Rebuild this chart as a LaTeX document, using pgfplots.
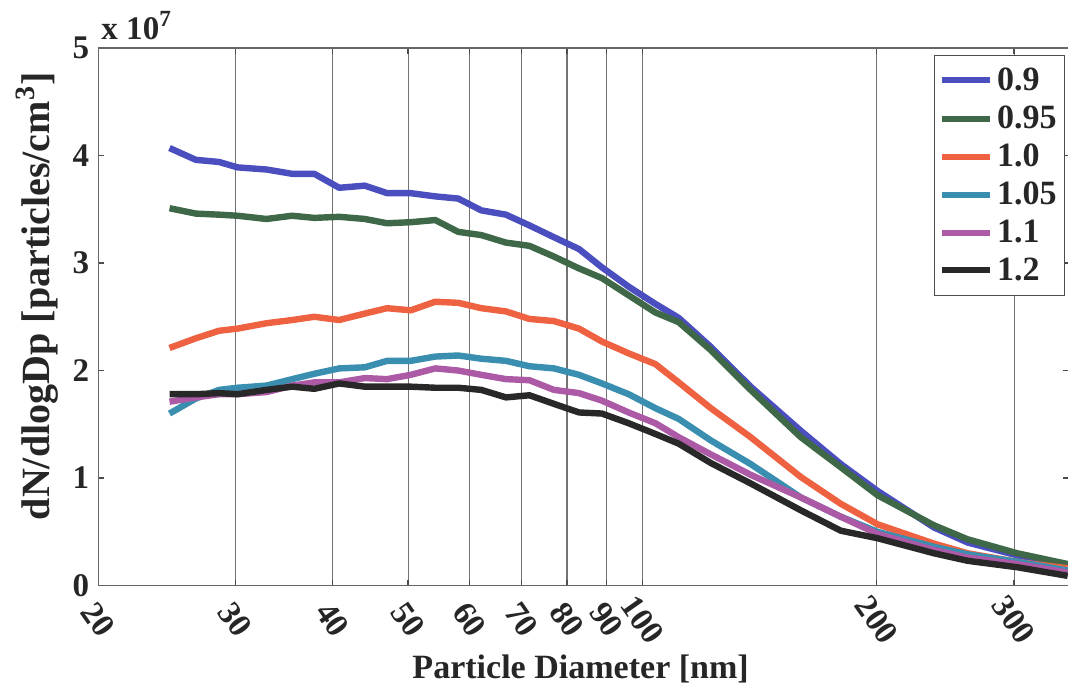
\documentclass[border=0pt]{standalone}
\usepackage{fontspec}
\setmainfont{Liberation Serif}
\usepackage{pgfplots}
\usepackage{pgfplotstable}
\pgfplotsset{compat=1.18}
\definecolor{cA}{RGB}{74,78,190}
\definecolor{cB}{RGB}{62,104,72}
\definecolor{cC}{RGB}{238,98,66}
\definecolor{cD}{RGB}{58,142,176}
\definecolor{cE}{RGB}{172,90,166}
\definecolor{cF}{RGB}{40,40,40}
\pgfplotstableread{
d     a     b     c     e     f     g
24.7  4.07  3.51  2.21  1.60  1.71  1.78
26.7  3.96  3.46  2.30  1.74  1.75  1.78
28.6  3.94  3.45  2.37  1.82  1.78  1.79
30.2  3.89  3.44  2.39  1.84  1.78  1.78
32.9  3.87  3.41  2.44  1.86  1.80  1.82
35.5  3.83  3.44  2.47  1.92  1.86  1.85
37.9  3.83  3.42  2.50  1.97  1.89  1.83
40.8  3.70  3.43  2.47  2.02  1.89  1.88
44.0  3.72  3.41  2.53  2.03  1.93  1.85
47.0  3.65  3.37  2.58  2.09  1.92  1.85
50.4  3.65  3.38  2.56  2.09  1.96  1.85
54.2  3.62  3.40  2.64  2.13  2.02  1.84
58.0  3.60  3.29  2.63  2.14  2.00  1.84
62.1  3.49  3.26  2.58  2.11  1.96  1.82
66.8  3.45  3.19  2.55  2.09  1.92  1.75
71.6  3.35  3.16  2.48  2.04  1.91  1.77
77.0  3.24  3.06  2.46  2.02  1.82  1.69
82.9  3.13  2.95  2.39  1.96  1.79  1.61
88.7  2.96  2.86  2.27  1.88  1.72  1.60
96.0  2.78  2.70  2.16  1.78  1.61  1.51
103.9 2.62  2.54  2.06  1.65  1.51  1.41
111.3 2.49  2.45  1.89  1.55  1.38  1.32
122.4 2.22  2.19  1.65  1.35  1.22  1.14
137.7 1.85  1.82  1.38  1.13  1.03  0.95
159.7 1.44  1.38  1.01  0.82  0.82  0.70
179.8 1.13  1.10  0.76  0.64  0.64  0.51
200.4 0.88  0.84  0.57  0.50  0.48  0.44
236.8 0.54  0.56  0.39  0.36  0.33  0.30
261.6 0.40  0.43  0.30  0.29  0.26  0.23
303.0 0.28  0.30  0.22  0.22  0.20  0.17
351.6 0.19  0.20  0.16  0.14  0.12  0.09
}\data
\begin{document}
\begin{tikzpicture}
\begin{axis}[
  scale only axis,
  width=485pt, height=268.5pt,
  xmode=log, log basis x=10,
  xmin=20, xmax=353,
  ymin=0, ymax=5,
  xtick={20,30,40,50,60,70,80,90,100,200,300},
  xticklabels={20,30,40,50,60,70,80,90,100,200,300},
  minor xtick={},
  ytick={0,1,2,3,4,5},
  yticklabels={0,1,2,3,4,5},
  xmajorgrids,
  major grid style={draw=black!55, line width=0.5pt},
  axis line style={draw=black!60, line width=0.6pt},
  tick style={draw=black!70, line width=0.6pt},
  major tick length=3pt,
  tick align=inside,
  ticklabel style={font=\fontsize{16.5}{18}\selectfont\bfseries, text=black!85},
  xticklabel style={anchor=center, yshift=-17pt, rotate=-55},
  yticklabel style={xshift=-1pt},
  xlabel={Particle Diameter [nm]},
  xlabel style={at={(axis description cs:0.497,-0.155)}, anchor=center, font=\fontsize{17}{19}\selectfont\bfseries, text=black!85},
  ylabel={dN/dlogDp [particles/cm\textsuperscript{3}]},
  ylabel style={at={(axis description cs:-0.063,0.538)}, anchor=center, font=\fontsize{20}{22}\selectfont\bfseries, text=black!85},
  legend style={at={(axis description cs:0.861,0.987)}, anchor=north west,
    font=\fontsize{17}{19}\selectfont\bfseries, text=black!85,
    draw=black!70, line width=0.6pt, row sep=2.2pt, inner xsep=2pt, inner ysep=4pt},
  legend cell align=left,
  legend image code/.code={\draw[#1, line width=3pt] (0cm,0cm) -- (0.85cm,0cm);},
  every axis plot/.append style={line width=3.2pt, line join=round},
  clip=true,
]
\addplot[cA] table[x=d, y=a] {\data};
\addplot[cB] table[x=d, y=b] {\data};
\addplot[cC] table[x=d, y=c] {\data};
\addplot[cD] table[x=d, y=e] {\data};
\addplot[cE] table[x=d, y=f] {\data};
\addplot[cF] table[x=d, y=g] {\data};
\legend{0.9,0.95,1.0,1.05,1.1,1.2}
\coordinate (sw) at (axis description cs:0,0);
\coordinate (ne) at (axis description cs:1,1);
\coordinate (nw) at (axis description cs:0,1);
\end{axis}
\node[anchor=south west, font=\fontsize{16.5}{18}\selectfont\bfseries, text=black!85, inner sep=0pt] at ([shift={(1.5pt,4pt)}]nw) {x 10\textsuperscript{7}};
\pgfresetboundingbox
\path[use as bounding box] ([shift={(-49pt,-54.5pt)}]sw) rectangle ([shift={(-0.5pt,24pt)}]ne);
\end{tikzpicture}
\end{document}
